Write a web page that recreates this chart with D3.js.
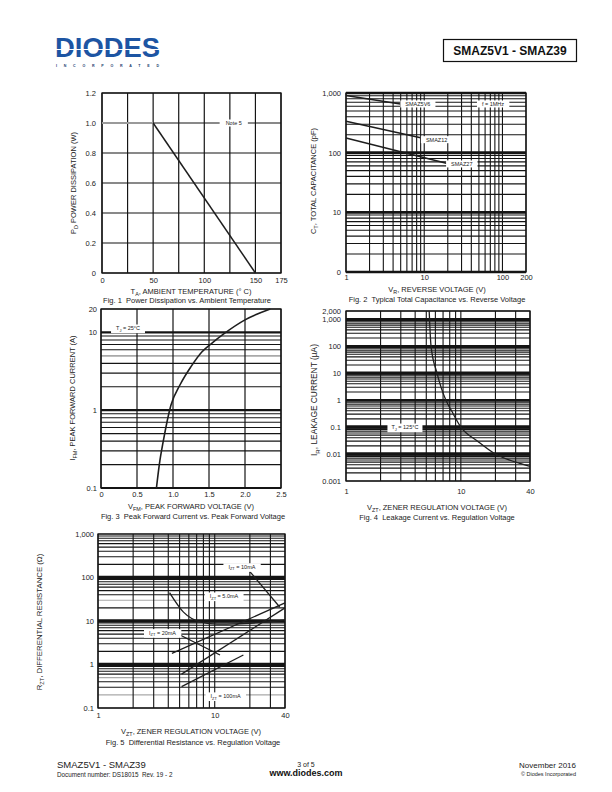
<!DOCTYPE html>
<html><head><meta charset="utf-8">
<script src="https://cdn.jsdelivr.net/npm/d3@7"></script>
<style>body{margin:0;background:#fff}svg{display:block}</style>
</head><body>
<svg id="page" width="612" height="792"></svg>
<script>
// ---------------- DATA ----------------
// Fig 1: power derating
const fig1Temp = [0, 50, 150];
const fig1Power = [1.0, 1.0, 0];
const fig1XTicks = [0, 50, 100, 150, 175];
const fig1YTicks = [0, 0.2, 0.4, 0.6, 0.8, 1.0, 1.2];
const fig1XGrid = [0, 25, 50, 75, 100, 125, 150, 175];
const fig1Note = [128.8, 1.0];

// Fig 2: capacitance vs reverse voltage
const fig2V5V6 = [1, 5.2];
const fig2C5V6 = [910, 650];
const fig2V12 = [1, 9.3];
const fig2C12 = [336, 176];
const fig2V27 = [1, 20.3];
const fig2C27 = [176, 65];
const fig2XTicks = [1, 10, 100, 200];
const fig2XLabels = ["1", "10", "100", "200"];
const fig2YTicks = [1, 10, 100, 1000];
const fig2YLabels = ["0", "10", "100", "1,000"];
const fig2Notes = [
  {text: "SMAZ5V6", v: 8.3, c: 655},
  {text: "f = 1MHz", v: 75.8, c: 655},
  {text: "SMAZ12", v: 14.4, c: 165},
  {text: "SMAZ27", v: 30.2, c: 64.7}
];

// Fig 3: forward current vs forward voltage
const fig3V = [0.77, 0.81, 0.865, 0.97, 1.1, 1.25, 1.4, 1.55, 1.7, 2.0, 2.35];
const fig3I = [0.1, 0.2, 0.4, 1.15, 2.14, 3.63, 5.6, 7.4, 9.5, 14.5, 20];
const fig3XTicks = [0, 0.5, 1.0, 1.5, 2.0, 2.5];
const fig3XLabels = ["0", "0.5", "1.0", "1.5", "2.0", "2.5"];
const fig3YTicks = [0.1, 1, 10, 20];
const fig3YLabels = ["0.1", "1", "10", "20"];
const fig3GrayLines = [5];
const fig3Note = [0.375, 11.4];

// Fig 4: leakage current vs regulation voltage
const fig4V = [5.3, 5.5, 6.2, 7.4, 8.3, 10, 14, 20, 30, 40];
const fig4I = [2000, 100, 10, 1, 0.4, 0.1, 0.03, 0.01, 0.005, 0.0035];
const fig4XTicks = [1, 10, 40];
const fig4YTicks = [0.001, 0.01, 0.1, 1, 10, 100, 1000, 2000];
const fig4YLabels = ["0.001", "0.01", "0.1", "1", "10", "100", "1,000", "2,000"];
const fig4Note = [3.26, 0.1];

// Fig 5: differential resistance vs regulation voltage
const fig5CurveV = [4.1, 5.4, 7.5, 10.5, 15, 25, 40];
const fig5CurveR = [45, 16, 9.6, 8.5, 8.6, 9.3, 10.5];
const fig5LineAV = [4.3, 40];
const fig5LineAR = [1.8, 26];
const fig5LineBV = [5.2, 40];
const fig5LineBR = [0.6, 20];
const fig5LineCV = [5.2, 17.6];
const fig5LineCR = [0.31, 1.65];
const fig5Leader10V = [20, 36];
const fig5Leader10R = [137, 21];
const fig5Leader20V = [5.04, 11.1];
const fig5Leader20R = [4.77, 1.65];
const fig5XTicks = [1, 10, 40];
const fig5YTicks = [0.1, 1, 10, 100, 1000];
const fig5YLabels = ["0.1", "1", "10", "100", "1,000"];
const fig5GrayLines = [1000, 30, 0.5, 0.2];
const fig5Notes = [
  {sym: "I", sub: "ZT", rest: " = 10mA", v: 17.1, r: 177},
  {sym: "I", sub: "ZT", rest: " = 5.0mA", v: 12, r: 37.6},
  {sym: "I", sub: "ZT", rest: " = 20mA", v: 3.57, r: 5.4},
  {sym: "I", sub: "ZT", rest: " = 100mA", v: 12.4, r: 0.19}
];

// ---------------- DRAWING ----------------
const svg = d3.select("#page");
const FONT = '"Liberation Sans", Arial, Helvetica, sans-serif';
const INK = "#141414";
const TXT = "#222";
const NB = "\u00A0";

function minorLog(lo, hi) {
  const out = [];
  for (let e = Math.floor(Math.log10(lo)); e <= Math.ceil(Math.log10(hi)); e++)
    for (let m = 1; m <= 9; m++) {
      const v = +(m * Math.pow(10, e)).toPrecision(6);
      if (v >= lo * 0.999 && v <= hi * 1.001) out.push(v);
    }
  return out;
}
const near = (a, b) => Math.abs(a - b) / Math.abs(b) < 1e-6;
const isDec = v => Math.abs(Math.log10(v) - Math.round(Math.log10(v))) < 1e-9;

function richText(g, x, y, parts, o = {}) {
  const size = o.size || 7.5;
  const t = g.append("text").attr("x", x).attr("y", y).attr("font-size", size)
    .attr("text-anchor", o.anchor || "middle").attr("fill", o.fill || TXT)
    .attr("font-family", FONT);
  if (o.weight) t.attr("font-weight", o.weight);
  if (o.rotate) t.attr("transform", `rotate(-90,${x},${y})`);
  let shifted = false;
  const sh = size * 0.3;
  parts.forEach(p => {
    const isSub = Array.isArray(p);
    const ts = t.append("tspan").text(isSub ? p[0] : p);
    if (isSub) { ts.attr("font-size", size * 0.72); if (!shifted) { ts.attr("dy", sh); shifted = true; } }
    else if (shifted) { ts.attr("dy", -sh); shifted = false; }
  });
  if (o.box) {
    const b = t.node().getBBox();
    const px = o.padX == null ? 5 : o.padX;
    g.insert("rect", () => t.node()).attr("x", b.x - px).attr("y", b.y - 0.5)
      .attr("width", b.width + 2 * px).attr("height", b.height + 1).attr("fill", "#fff");
  }
  return t;
}

function drawChart(c) {
  const g = svg.append("g");
  const [x0, x1] = c.x.range(), [y0, y1] = c.y.range();
  g.append("g").selectAll("line").data(c.yGrid).join("line")
    .attr("x1", x0).attr("x2", x1)
    .attr("y1", d => c.y(d)).attr("y2", d => c.y(d))
    .attr("stroke", d => (c.gray || []).some(v => near(d, v)) ? "#a9a9a9" : INK)
    .attr("stroke-width", d => c.hW ? c.hW(d) : 1.1);
  g.append("g").selectAll("line").data(c.xGrid).join("line")
    .attr("y1", y0).attr("y2", y1)
    .attr("x1", d => c.x(d)).attr("x2", d => c.x(d))
    .attr("stroke", INK).attr("stroke-width", c.vW || 1.1);
  g.append("rect").attr("x", x0).attr("y", y1).attr("width", x1 - x0).attr("height", y0 - y1)
    .attr("fill", "none").attr("stroke", INK).attr("stroke-width", 1.3);
  const ya = g.append("g").attr("transform", `translate(${c.yLabelX},0)`)
    .call(d3.axisLeft(c.y).tickValues(c.yTicks).tickFormat((d, i) => c.yLabels[i]).tickSize(0).tickPadding(0));
  ya.select(".domain").remove();
  ya.selectAll("text").attr("font-size", 7.5).attr("font-family", FONT).attr("fill", TXT);
  const xa = g.append("g").attr("transform", `translate(0,${c.xLabelY})`)
    .call(d3.axisBottom(c.x).tickValues(c.xTicks).tickFormat((d, i) => c.xLabels[i]).tickSize(0).tickPadding(0));
  xa.select(".domain").remove();
  xa.selectAll("text").attr("font-size", 7.5).attr("font-family", FONT).attr("fill", TXT);
  return g;
}
function curve(g, c, xs, ys, o = {}) {
  const line = d3.line().x(d => c.x(d[0])).y(d => c.y(d[1]));
  if (o.smooth) line.curve(d3.curveMonotoneX);
  g.append("path").datum(d3.zip(xs, ys)).attr("d", line)
    .attr("fill", "none").attr("stroke", o.color || "#1e1e1e").attr("stroke-width", o.w || 1.5);
}

// ---- Header ----
svg.append("text").attr("x", 55).attr("y", 57).attr("font-size", 28).attr("font-weight", "bold")
  .attr("font-family", FONT).attr("fill", "#1d55a3").attr("textLength", 105)
  .attr("lengthAdjust", "spacingAndGlyphs").text("DIODES");
svg.append("line").attr("x1", 54).attr("x2", 161).attr("y1", 49.5).attr("y2", 49.5)
  .attr("stroke", "#fff").attr("stroke-width", 1.2);
svg.append("text").attr("x", 56).attr("y", 66.5).attr("font-size", 3.6).attr("font-weight", "bold")
  .attr("font-family", FONT).attr("fill", "#23406f").attr("textLength", 103)
  .attr("lengthAdjust", "spacing").text("INCORPORATED");
svg.append("rect").attr("x", 443.5).attr("y", 39.5).attr("width", 133).attr("height", 22)
  .attr("fill", "none").attr("stroke", "#111").attr("stroke-width", 1.2);
svg.append("text").attr("x", 510).attr("y", 55).attr("font-size", 12).attr("font-weight", "bold")
  .attr("font-family", FONT).attr("text-anchor", "middle").attr("fill", "#111").text("SMAZ5V1 - SMAZ39");

// ---- Fig 1 ----
{
  const c = {
    x: d3.scaleLinear([0, 175], [102, 281]), y: d3.scaleLinear([0, 1.2], [273, 93]),
    xGrid: fig1XGrid, yGrid: fig1YTicks, hW: () => 1.2, vW: 1.2,
    xTicks: fig1XTicks, xLabels: fig1XTicks.map(String), yTicks: fig1YTicks,
    yLabels: fig1YTicks.map(d => d === 0 ? "0" : d3.format(".1f")(d)),
    yLabelX: 96, xLabelY: 277.5
  };
  const g = drawChart(c);
  curve(g, c, fig1Temp.slice(0, 2), fig1Power.slice(0, 2), {color: "#9a9a9a", w: 2});
  curve(g, c, fig1Temp.slice(1), fig1Power.slice(1), {w: 1.5});
  richText(g, c.x(fig1Note[0]), c.y(fig1Note[1]) + 2, ["Note 5"], {size: 5.5, box: true, padX: 6});
  richText(g, 76, 183, ["P", ["D"], " POWER DISSIPATION (W)"], {rotate: true});
  richText(g, 191, 294, ["T", ["A"], ", AMBIENT TEMPERATURE (", "\u00B0", " C)"]);
  richText(g, 187, 303, ["Fig. 1" + NB + NB + "Power Dissipation vs. Ambient Temperature"]);
}

// ---- Fig 2 ----
{
  const c = {
    x: d3.scaleLog([1, 200], [346, 526]), y: d3.scaleLog([1, 1000], [272, 93]),
    xGrid: minorLog(1, 200), yGrid: minorLog(1, 1000),
    hW: d => isDec(d) ? 2.6 : 1.1, vW: 1.1,
    xTicks: fig2XTicks, xLabels: fig2XLabels, yTicks: fig2YTicks, yLabels: fig2YLabels,
    yLabelX: 341, xLabelY: 275
  };
  const g = drawChart(c);
  curve(g, c, fig2V5V6, fig2C5V6);
  curve(g, c, fig2V12, fig2C12);
  curve(g, c, fig2V27, fig2C27);
  fig2Notes.forEach(n => richText(g, c.x(n.v), c.y(n.c) + 2, [n.text], {size: 5.5, box: true, padX: 5}));
  richText(g, 316, 181, ["C", ["T"], ", TOTAL CAPACITANCE (pF)"], {rotate: true});
  richText(g, 437, 292, ["V", ["R"], ", REVERSE VOLTAGE (V)"]);
  richText(g, 437, 302, ["Fig. 2" + NB + NB + "Typical Total Capacitance vs. Reverse Voltage"]);
}

// ---- Fig 3 ----
{
  const c = {
    x: d3.scaleLinear([0, 2.5], [101, 281]), y: d3.scaleLog([0.1, 20], [488, 309]),
    xGrid: fig3XTicks, yGrid: minorLog(0.1, 20), gray: fig3GrayLines,
    hW: d => isDec(d) ? 2.2 : (near(d, 5) ? 1.6 : 1.1), vW: 1.2,
    xTicks: fig3XTicks, xLabels: fig3XLabels, yTicks: fig3YTicks, yLabels: fig3YLabels,
    yLabelX: 97, xLabelY: 491.5
  };
  const g = drawChart(c);
  curve(g, c, fig3V, fig3I, {smooth: true, w: 1.6});
  richText(g, c.x(fig3Note[0]), c.y(fig3Note[1]) + 2, ["T", ["J"], " = 25\u00B0C"], {size: 5.5, box: true, padX: 5});
  richText(g, 75, 398, ["I", ["FM"], ", PEAK FORWARD CURRENT (A)"], {rotate: true});
  richText(g, 191, 509, ["V", ["FM"], ", PEAK FORWARD VOLTAGE (V)"]);
  richText(g, 193, 519, ["Fig. 3" + NB + NB + "Peak Forward Current vs. Peak Forward Voltage"]);
}

// ---- Fig 4 ----
{
  const c = {
    x: d3.scaleLog([1, 40], [346, 530]), y: d3.scaleLog([0.001, 2000], [481, 311]),
    xGrid: minorLog(1, 40), yGrid: minorLog(0.001, 2000),
    hW: d => (near(d, 10) || near(d, 0.1) || near(d, 0.01)) ? 3.4 : (isDec(d) && d > 0.002 ? 2.2 : 1.1), vW: 1.1,
    xTicks: fig4XTicks, xLabels: fig4XTicks.map(String), yTicks: fig4YTicks, yLabels: fig4YLabels,
    yLabelX: 341, xLabelY: 489
  };
  const g = drawChart(c);
  curve(g, c, fig4V, fig4I, {smooth: true, w: 1.3});
  richText(g, c.x(fig4Note[0]), c.y(fig4Note[1]) + 2, ["T", ["J"], " = 125\u00B0C"], {size: 5.5, box: true, padX: 4});
  richText(g, 317, 400, ["I", ["R"], ", LEAKAGE CURRENT (\u00B5A)"], {rotate: true, size: 8.4});
  richText(g, 437, 510, ["V", ["ZT"], ", ZENER REGULATION VOLTAGE (V)"]);
  richText(g, 437, 520, ["Fig. 4" + NB + NB + "Leakage Current vs. Regulation Voltage"]);
}

// ---- Fig 5 ----
{
  const c = {
    x: d3.scaleLog([1, 40], [98, 285]), y: d3.scaleLog([0.1, 1000], [708, 534]),
    xGrid: minorLog(1, 40), yGrid: minorLog(0.1, 1000), gray: fig5GrayLines,
    hW: d => (near(d, 100) || near(d, 10) || near(d, 1)) ? 3.4 : (near(d, 1000) ? 1.8 : 1.1), vW: 1.1,
    xTicks: fig5XTicks, xLabels: fig5XTicks.map(String), yTicks: fig5YTicks, yLabels: fig5YLabels,
    yLabelX: 94, xLabelY: 713
  };
  const g = drawChart(c);
  curve(g, c, fig5CurveV, fig5CurveR, {smooth: true, w: 1.3});
  curve(g, c, fig5LineAV, fig5LineAR, {w: 1.3});
  curve(g, c, fig5LineBV, fig5LineBR, {w: 1.3});
  curve(g, c, fig5LineCV, fig5LineCR, {w: 1.3});
  curve(g, c, fig5Leader10V, fig5Leader10R, {w: 1.3});
  curve(g, c, fig5Leader20V, fig5Leader20R, {w: 1.3});
  fig5Notes.forEach(n => richText(g, c.x(n.v), c.y(n.r) + 2, [n.sym, [n.sub], n.rest], {size: 5.5, box: true, padX: 5}));
  richText(g, 42, 622, ["R", ["ZT"], ", DIFFERENTIAL RESISTANCE (\u03A9)"], {rotate: true, size: 7.8});
  richText(g, 191, 734, ["V", ["ZT"], ", ZENER REGULATION VOLTAGE (V)"]);
  richText(g, 193, 745, ["Fig. 5" + NB + NB + "Differential Resistance vs. Regulation Voltage"]);
}

// ---- Footer ----
richText(svg, 57, 768, ["SMAZ5V1 - SMAZ39"], {anchor: "start", size: 9.5});
richText(svg, 57, 777, ["Document number: DS18015" + NB + NB + "Rev. 19 - 2"], {anchor: "start", size: 6.3});
richText(svg, 306, 767, ["3 of 5"], {size: 7});
richText(svg, 306, 776, ["www.diodes.com"], {size: 9, weight: "bold", fill: "#111"});
richText(svg, 576, 768, ["November 2016"], {anchor: "end", size: 8});
richText(svg, 576, 775.5, ["\u00A9 Diodes Incorporated"], {anchor: "end", size: 5.5});
</script>
</body></html>
